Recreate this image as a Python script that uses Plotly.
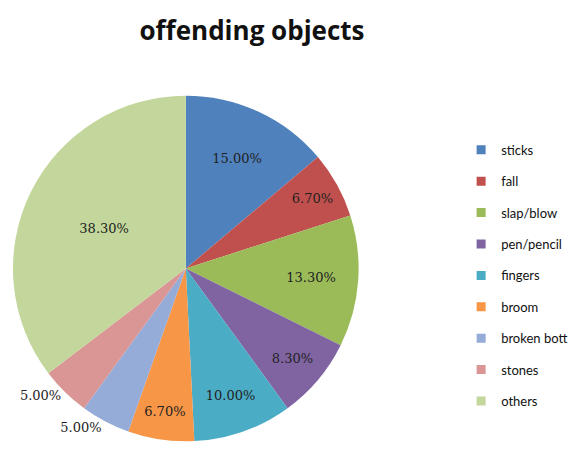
import plotly.graph_objects as go

categories = ["sticks", "fall", "slap/blow", "pen/pencil", "fingers", "broom",
              "broken bott", "stones", "others"]
values = [15.00, 6.70, 13.30, 8.30, 10.00, 6.70, 5.00, 5.00, 38.30]
label_text = ["15.00%", "6.70%", "13.30%", "8.30%", "10.00%", "6.70%",
              "5.00%", "5.00%", "38.30%"]
colors = ["#4F81BD", "#C0504D", "#9BBB59", "#8064A2", "#4BACC6", "#F79646",
          "#95ABD8", "#D99694", "#C3D69B"]
text_pos = ["inside"] * 6 + ["outside", "outside", "inside"]

fig = go.Figure()
fig.add_trace(go.Pie(
    labels=categories, values=values, text=label_text, textinfo="text",
    textposition=text_pos, insidetextorientation="horizontal",
    sort=False, direction="clockwise", rotation=0,
    marker=dict(colors=colors, line=dict(width=0)),
    textfont=dict(family="DejaVu Serif", size=13, color="#222222"),
    domain=dict(x=[0.0, 0.6], y=[0.04, 0.81]),
    showlegend=False,
))
# legend entries (square swatches)
for i, (c, col) in enumerate(zip(categories, colors)):
    fig.add_trace(go.Scatter(
        x=[None], y=[None], mode="markers", name=c,
        marker=dict(symbol="square", size=9, color=col),
        legendgroup=str(i), showlegend=True,
    ))

fig.update_layout(
    width=581, height=453,
    margin=dict(l=0, r=0, t=0, b=0),
    paper_bgcolor="white", plot_bgcolor="white",
    xaxis=dict(visible=False), yaxis=dict(visible=False),
    title=dict(text="<b>offending objects</b>", x=0.42, xanchor="center",
               y=0.95, yanchor="middle",
               font=dict(family="Open Sans", size=26, color="#111111")),
    legend=dict(x=0.778, xanchor="left", y=0.72, yanchor="top",
                tracegroupgap=11.5, itemwidth=30,
                font=dict(family="Lato", size=13, color="#111111")),
)
fig.write_html("out.html")
